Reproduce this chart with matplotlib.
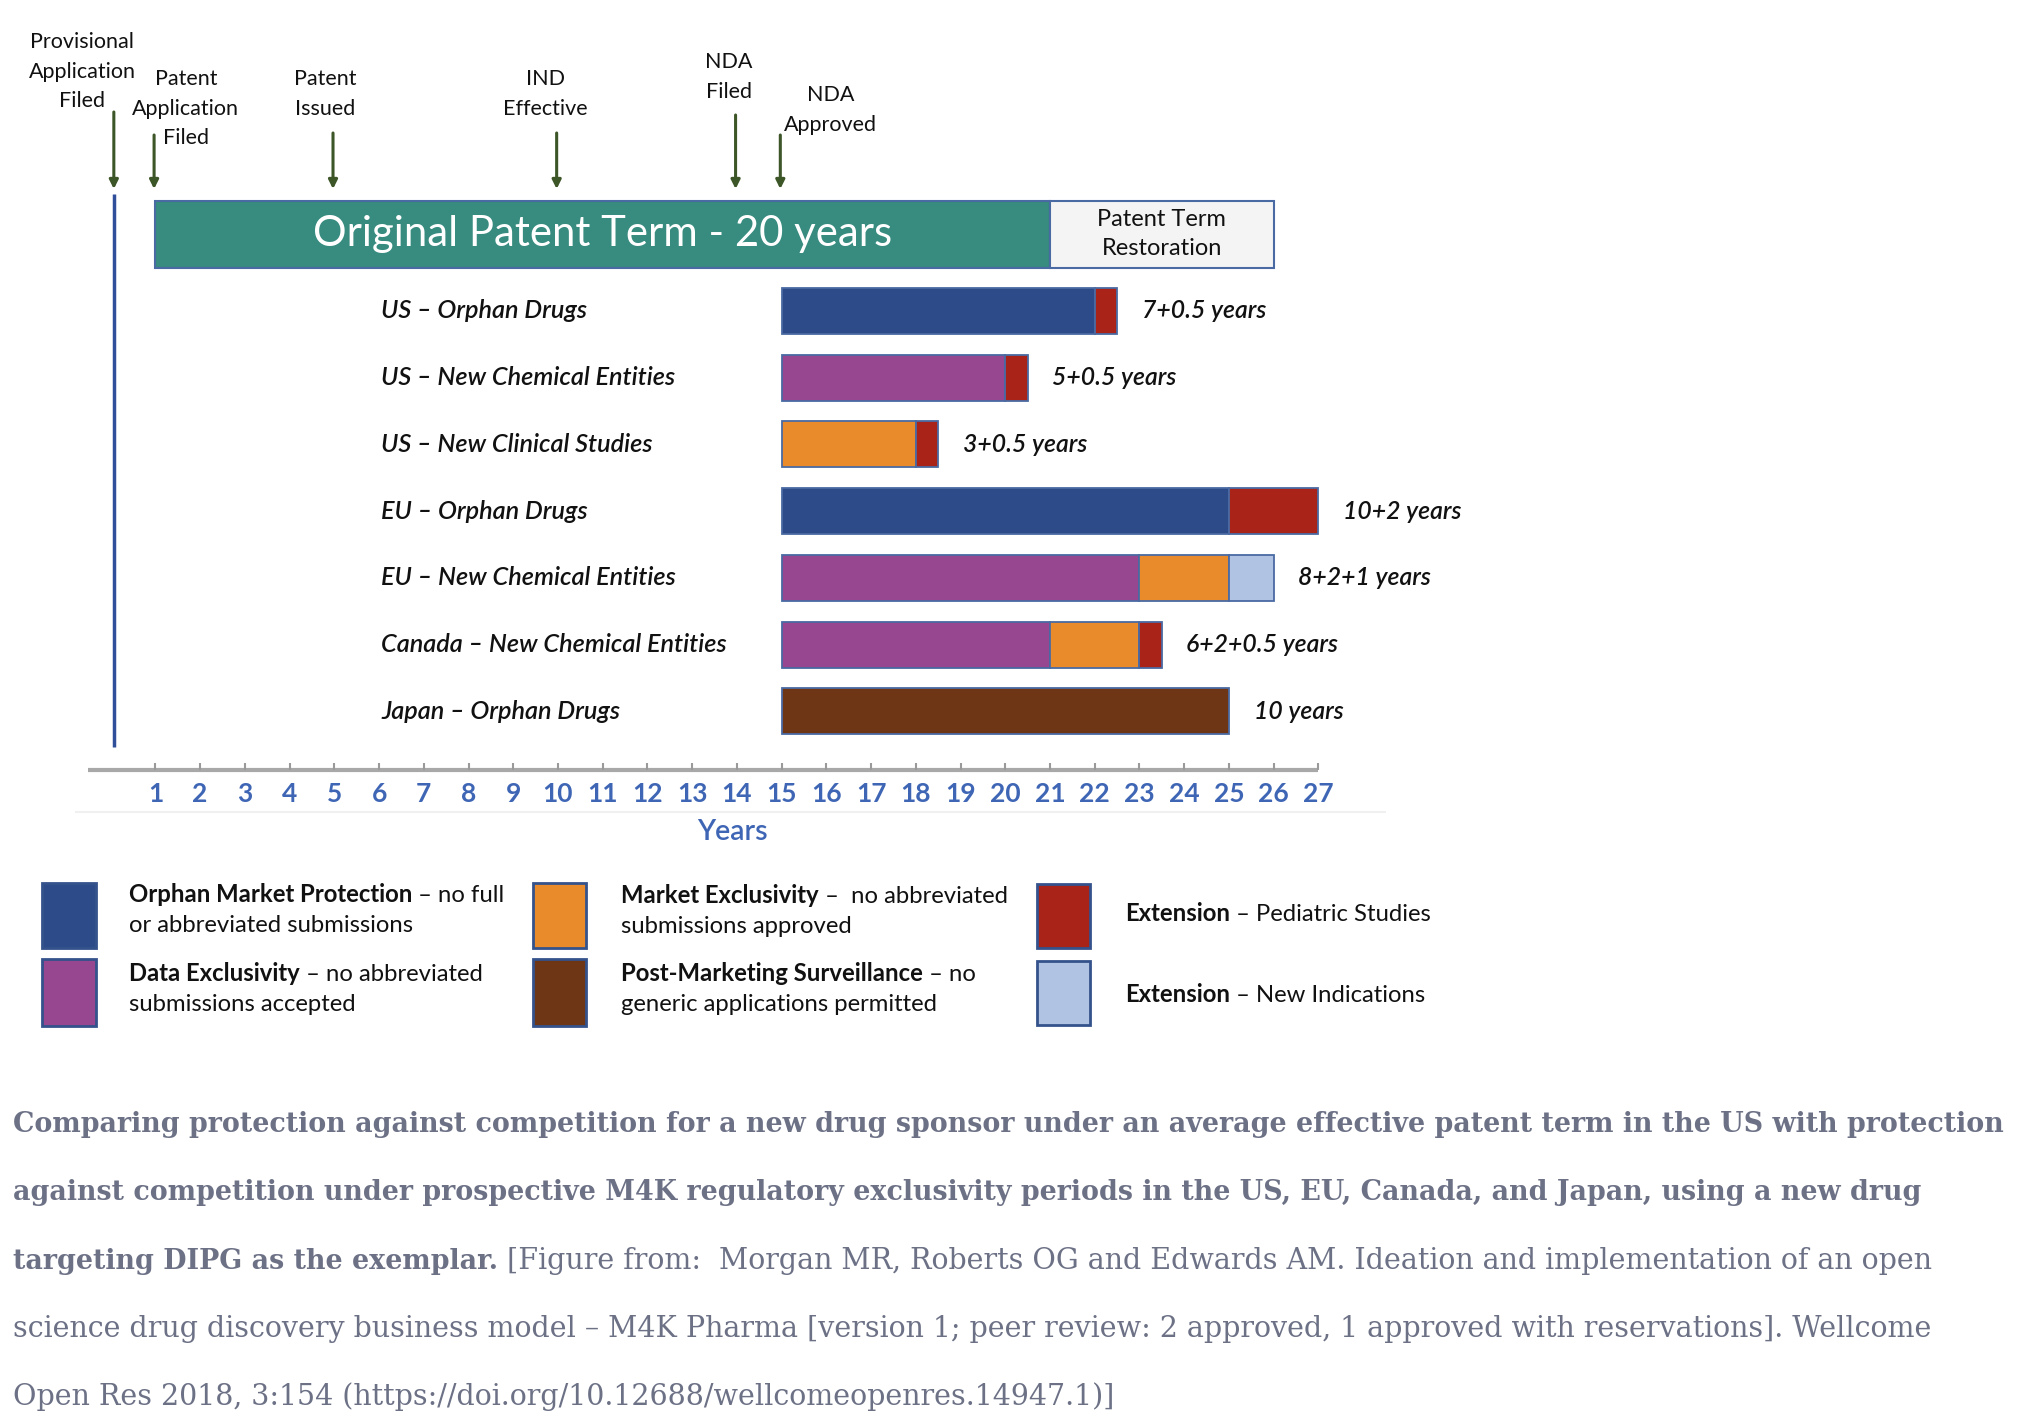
import matplotlib
matplotlib.use('Agg')
import matplotlib.pyplot as plt
from matplotlib.patches import Rectangle

W, H = 2022, 1422

# ---- data ----
rows = ['US – Orphan Drugs', 'US – New Chemical Entities', 'US – New Clinical Studies',
        'EU – Orphan Drugs', 'EU – New Chemical Entities', 'Canada – New Chemical Entities',
        'Japan – Orphan Drugs']
orphan      = [7, 0, 0, 10, 0, 0, 0]
data_excl   = [0, 5, 0, 0, 8, 6, 0]
market_excl = [0, 0, 3, 0, 2, 2, 0]
post_mkt    = [0, 0, 0, 0, 0, 0, 10]
pediatric   = [0.5, 0.5, 0.5, 2, 0, 0.5, 0]
new_ind     = [0, 0, 0, 0, 1, 0, 0]
value_labels = ['7+0.5 years', '5+0.5 years', '3+0.5 years', '10+2 years',
                '8+2+1 years', '6+2+0.5 years', '10 years']
approval_year = 15

patent_start = 1
patent_term = 20
restoration = 5

milestones = ['Provisional\nApplication\nFiled', 'Patent\nApplication\nFiled', 'Patent\nIssued',
              'IND\nEffective', 'NDA\nFiled', 'NDA\nApproved']
milestone_years = [0, 1, 5, 10, 14, 15]

years = list(range(1, 28))

# ---- colours ----
C_ORPHAN = '#2e4b89'
C_DATA = '#974690'
C_MARKET = '#e98b2a'
C_PMS = '#6e3614'
C_PED = '#a92318'
C_NEWIND = '#b1c3e3'
C_TEAL = '#378b7f'
C_EDGE = '#4a6aa3'
C_ARROW = '#3d5628'
C_TICK = '#3f66b5'
C_CAP = '#6c7186'

FONT = ['Lato', 'DejaVu Sans']
plt.rcParams['font.family'] = FONT

fig = plt.figure(figsize=(W / 100, H / 100), dpi=100)
ax = fig.add_axes([0, 0, 1, 1])
# 1 year = 44.73 px, year 0 at x=110.7 px; 1 row = 66.7 px, row 0 at y=311 px
XPX, X0 = 44.73, 110.7
YPX, Y0 = 66.7, 311
ax.set_xlim(-X0 / XPX, (W - X0) / XPX)
ax.set_ylim((H - Y0) / YPX, -Y0 / YPX)
ax.axis('off')


def py(px):
    return (px - Y0) / YPX


# patent term bar
pb_y, pb_h = py(234), 67 / YPX
ax.barh(pb_y, patent_term, left=patent_start, height=pb_h, color=C_TEAL,
        edgecolor=C_EDGE, linewidth=1.5)
ax.barh(pb_y, restoration, left=patent_start + patent_term, height=pb_h, color='#f4f4f4',
        edgecolor=C_EDGE, linewidth=1.5)
ax.text(patent_start + patent_term / 2, pb_y, 'Original Patent Term - 20 years', color='white',
        fontsize=30.2, ha='center', va='center')
ax.text(patent_start + patent_term + restoration / 2, pb_y, 'Patent Term\nRestoration',
        color='#111111', fontsize=17, ha='center', va='center', linespacing=1.5)

# vertical start line
ax.vlines(milestone_years[0] + 0.07, py(194), py(747), color='#2f4f9a', linewidth=2.5)

# milestone arrows
arrow_top = [112, 135, 133, 133, 115, 135]
arrow_bot = 189
label_x = [-0.64, 1.68, 4.79, 9.71, 13.82, 16.1]
label_top = [32, 69, 69, 69, 52, 85]
for name, yr, at, lx, lt in zip(milestones, milestone_years, arrow_top, label_x, label_top):
    xx = yr + 0.07 if yr == 0 else yr - 0.03
    ax.annotate('', xy=(xx, py(arrow_bot)), xytext=(xx, py(at)),
                arrowprops=dict(arrowstyle='-|>', color=C_ARROW, lw=2.2, mutation_scale=13,
                                shrinkA=0, shrinkB=0))
    ax.text(lx, py(lt), name, fontsize=15.5, ha='center', va='top', linespacing=1.6,
            color='#111111')

# exclusivity bars
bar_h = 46 / YPX
segments = [(orphan, C_ORPHAN), (data_excl, C_DATA), (market_excl, C_MARKET),
            (post_mkt, C_PMS), (pediatric, C_PED), (new_ind, C_NEWIND)]
for i, name in enumerate(rows):
    left = approval_year
    for vals, col in segments:
        if vals[i] > 0:
            ax.barh(i, vals[i], left=left, height=bar_h, color=col, edgecolor=C_EDGE,
                    linewidth=1.3)
            left += vals[i]
    ax.text(left + 0.55, i, value_labels[i], fontsize=17.8, style='italic', weight='semibold',
            ha='left', va='center', color='#111111')
    ax.text(6.05, i, name, fontsize=18.2, style='italic', weight='semibold', ha='left',
            va='center', color='#111111')

# time axis
ax.hlines(py(770), -0.5, 27, color='#a8a8a8', linewidth=3)
ax.vlines(years, py(763), py(770), color='#9a9a9a', linewidth=1.5)
ax.hlines(py(812), -0.8, 28.5, color='#f0f0f0', linewidth=1.5)
for yr in years:
    ax.text(yr, py(794), str(yr), fontsize=19, weight='bold', color=C_TICK,
            ha='center', va='center')
ax.text(13.9, py(832), 'Years', fontsize=20.5, weight='semibold', color=C_TICK,
        ha='center', va='center')

# ---- legend ----
renderer = fig.canvas.get_renderer()


def rich(x_px, y_px, parts, size, family, color, scale_normal=1.0):
    x = x_px
    for txt, weight in parts:
        s = size * (scale_normal if weight == 'normal' else 1.0)
        t = fig.text(x / W, 1 - y_px / H, txt, fontsize=s, weight=weight, color=color,
                     family=family, ha='left', va='baseline')
        bb = t.get_window_extent(renderer)
        x = bb.x1


legend_items = [
    ((42, 883, 54, 65), C_ORPHAN, 129, [902, 932],
     [[('Orphan Market Protection', 'bold'), (' – no full', 'normal')],
      [('or abbreviated submissions', 'normal')]]),
    ((42, 959, 54, 67), C_DATA, 129, [981, 1011],
     [[('Data Exclusivity', 'bold'), (' – no abbreviated', 'normal')],
      [('submissions accepted', 'normal')]]),
    ((533, 883, 53, 65), C_MARKET, 621, [903, 933],
     [[('Market Exclusivity', 'bold'), (' –  no abbreviated', 'normal')],
      [('submissions approved', 'normal')]]),
    ((533, 959, 53, 67), C_PMS, 621, [981, 1011],
     [[('Post-Marketing Surveillance', 'bold'), (' – no', 'normal')],
      [('generic applications permitted', 'normal')]]),
    ((1037, 884, 53, 64), C_PED, 1125, [921],
     [[('Extension', 'bold'), (' – Pediatric Studies', 'normal')]]),
    ((1037, 961, 53, 64), C_NEWIND, 1125, [1002],
     [[('Extension', 'bold'), (' – New Indications', 'normal')]]),
]
for (sx, sy, sw, sh), col, tx, baselines, lines in legend_items:
    fig.patches.append(Rectangle((sx / W, 1 - (sy + sh) / H), sw / W, sh / H, color=col,
                                 ec='#34528c', lw=2, transform=fig.transFigure, figure=fig))
    for bl, parts in zip(baselines, lines):
        rich(tx, bl, parts, 17.2, FONT, '#111111')

# ---- caption ----
SERIF = ['DejaVu Serif']
cap_lines = [
    [('Comparing protection against competition for a new drug sponsor under an average '
      'effective patent term in the US with protection', 'bold')],
    [('against competition under prospective M4K regulatory exclusivity periods in the US, '
      'EU, Canada, and Japan, using a new drug', 'bold')],
    [('targeting DIPG as the exemplar.', 'bold'),
     (' [Figure from:  Morgan MR, Roberts OG and Edwards AM. Ideation and implementation of '
      'an open', 'normal')],
    [('science drug discovery business model – M4K Pharma [version 1; peer review: 2 '
      'approved, 1 approved with reservations]. Wellcome', 'normal')],
    [('Open Res 2018, 3:154 (https://doi.org/10.12688/wellcomeopenres.14947.1)]', 'normal')],
]
# fit the first line to its width in the reference
probe = fig.text(0, 0, cap_lines[0][0][0], fontsize=20, weight='bold', family=SERIF)
cap_size = 20 * 1996 / probe.get_window_extent(renderer).width
probe.remove()
for k, parts in enumerate(cap_lines):
    rich(13, 1132 + 68.3 * k, parts, cap_size, SERIF, C_CAP, scale_normal=1.06)

fig.savefig('out.png', dpi=100, facecolor='white')
